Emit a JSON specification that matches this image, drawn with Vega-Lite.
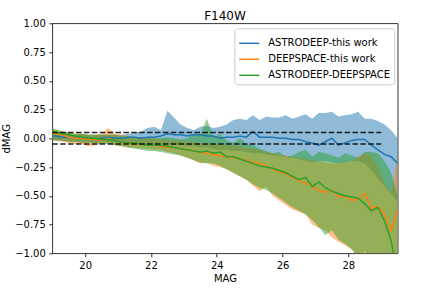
{
  "$schema": "https://vega.github.io/schema/vega-lite/v6.json",
  "autosize": {"type": "none"},
  "padding": {"left": 52.3, "top": 23.3, "right": 34, "bottom": 34},
  "width": 345.4,
  "height": 230,
  "title": {"text": "F140W", "fontSize": 12, "fontWeight": "normal", "color": "black", "offset": -5, "font": "DejaVu Sans"},
  "config": {
    "font": "DejaVu Sans",
    "view": {"stroke": "black", "strokeWidth": 0.8},
    "axis": {"domain": false, "grid": false, "tickColor": "black", "tickSize": 3.5, "tickWidth": 0.8, "labelFontSize": 10, "labelColor": "black", "labelPadding": 3.5, "labelOverlap": false, "titleFontSize": 10, "titleFontWeight": "normal", "titleColor": "black", "labelFont": "DejaVu Sans", "titleFont": "DejaVu Sans"}
  },
  "datasets": {
    "stats": [
      {"series": "ASTRODEEP-this work", "mag": 18.9, "mean": 0.02, "lo": -0.02, "hi": 0.08},
      {"series": "ASTRODEEP-this work", "mag": 19.1, "mean": 0.02, "lo": -0.02, "hi": 0.06},
      {"series": "ASTRODEEP-this work", "mag": 19.3, "mean": 0.01, "lo": -0.02, "hi": 0.04},
      {"series": "ASTRODEEP-this work", "mag": 19.5, "mean": 0.01, "lo": -0.03, "hi": 0.03},
      {"series": "ASTRODEEP-this work", "mag": 19.7, "mean": 0.0, "lo": -0.03, "hi": 0.03},
      {"series": "ASTRODEEP-this work", "mag": 19.9, "mean": 0.0, "lo": -0.03, "hi": 0.04},
      {"series": "ASTRODEEP-this work", "mag": 20.1, "mean": 0.0, "lo": -0.03, "hi": 0.03},
      {"series": "ASTRODEEP-this work", "mag": 20.3, "mean": -0.01, "lo": -0.04, "hi": 0.03},
      {"series": "ASTRODEEP-this work", "mag": 20.5, "mean": 0.0, "lo": -0.03, "hi": 0.03},
      {"series": "ASTRODEEP-this work", "mag": 20.7, "mean": 0.01, "lo": -0.03, "hi": 0.03},
      {"series": "ASTRODEEP-this work", "mag": 20.9, "mean": 0.0, "lo": -0.04, "hi": 0.03},
      {"series": "ASTRODEEP-this work", "mag": 21.1, "mean": 0.0, "lo": -0.04, "hi": 0.03},
      {"series": "ASTRODEEP-this work", "mag": 21.3, "mean": 0.01, "lo": -0.04, "hi": 0.04},
      {"series": "ASTRODEEP-this work", "mag": 21.5, "mean": 0.01, "lo": -0.04, "hi": 0.05},
      {"series": "ASTRODEEP-this work", "mag": 21.7, "mean": 0.0, "lo": -0.05, "hi": 0.06},
      {"series": "ASTRODEEP-this work", "mag": 21.9, "mean": 0.01, "lo": -0.05, "hi": 0.09},
      {"series": "ASTRODEEP-this work", "mag": 22.1, "mean": 0.01, "lo": -0.05, "hi": 0.1},
      {"series": "ASTRODEEP-this work", "mag": 22.3, "mean": 0.02, "lo": -0.05, "hi": 0.07},
      {"series": "ASTRODEEP-this work", "mag": 22.5, "mean": 0.04, "lo": -0.05, "hi": 0.24},
      {"series": "ASTRODEEP-this work", "mag": 22.7, "mean": 0.03, "lo": -0.06, "hi": 0.18},
      {"series": "ASTRODEEP-this work", "mag": 22.9, "mean": 0.03, "lo": -0.06, "hi": 0.12},
      {"series": "ASTRODEEP-this work", "mag": 23.1, "mean": 0.02, "lo": -0.07, "hi": 0.09},
      {"series": "ASTRODEEP-this work", "mag": 23.3, "mean": 0.03, "lo": -0.07, "hi": 0.07},
      {"series": "ASTRODEEP-this work", "mag": 23.5, "mean": 0.03, "lo": -0.08, "hi": 0.1},
      {"series": "ASTRODEEP-this work", "mag": 23.7, "mean": 0.02, "lo": -0.08, "hi": 0.11},
      {"series": "ASTRODEEP-this work", "mag": 23.9, "mean": 0.02, "lo": -0.09, "hi": 0.09},
      {"series": "ASTRODEEP-this work", "mag": 24.1, "mean": 0.0, "lo": -0.1, "hi": 0.1},
      {"series": "ASTRODEEP-this work", "mag": 24.3, "mean": 0.01, "lo": -0.1, "hi": 0.12},
      {"series": "ASTRODEEP-this work", "mag": 24.5, "mean": 0.01, "lo": -0.11, "hi": 0.16},
      {"series": "ASTRODEEP-this work", "mag": 24.7, "mean": 0.02, "lo": -0.11, "hi": 0.17},
      {"series": "ASTRODEEP-this work", "mag": 24.9, "mean": 0.01, "lo": -0.12, "hi": 0.16},
      {"series": "ASTRODEEP-this work", "mag": 25.1, "mean": 0.06, "lo": -0.13, "hi": 0.2},
      {"series": "ASTRODEEP-this work", "mag": 25.3, "mean": 0.01, "lo": -0.13, "hi": 0.16},
      {"series": "ASTRODEEP-this work", "mag": 25.5, "mean": 0.01, "lo": -0.14, "hi": 0.19},
      {"series": "ASTRODEEP-this work", "mag": 25.7, "mean": 0.01, "lo": -0.15, "hi": 0.18},
      {"series": "ASTRODEEP-this work", "mag": 25.9, "mean": 0.0, "lo": -0.15, "hi": 0.18},
      {"series": "ASTRODEEP-this work", "mag": 26.1, "mean": 0.0, "lo": -0.17, "hi": 0.2},
      {"series": "ASTRODEEP-this work", "mag": 26.3, "mean": -0.01, "lo": -0.17, "hi": 0.17},
      {"series": "ASTRODEEP-this work", "mag": 26.5, "mean": -0.01, "lo": -0.18, "hi": 0.19},
      {"series": "ASTRODEEP-this work", "mag": 26.7, "mean": -0.03, "lo": -0.2, "hi": 0.21},
      {"series": "ASTRODEEP-this work", "mag": 26.9, "mean": -0.04, "lo": -0.21, "hi": 0.17},
      {"series": "ASTRODEEP-this work", "mag": 27.1, "mean": -0.06, "lo": -0.2, "hi": 0.22},
      {"series": "ASTRODEEP-this work", "mag": 27.3, "mean": -0.03, "lo": -0.2, "hi": 0.22},
      {"series": "ASTRODEEP-this work", "mag": 27.5, "mean": 0.0, "lo": -0.21, "hi": 0.23},
      {"series": "ASTRODEEP-this work", "mag": 27.7, "mean": -0.06, "lo": -0.22, "hi": 0.19},
      {"series": "ASTRODEEP-this work", "mag": 27.9, "mean": -0.04, "lo": -0.21, "hi": 0.2},
      {"series": "ASTRODEEP-this work", "mag": 28.1, "mean": -0.02, "lo": -0.2, "hi": 0.21},
      {"series": "ASTRODEEP-this work", "mag": 28.3, "mean": -0.01, "lo": -0.2, "hi": 0.23},
      {"series": "ASTRODEEP-this work", "mag": 28.5, "mean": -0.01, "lo": -0.22, "hi": 0.17},
      {"series": "ASTRODEEP-this work", "mag": 28.7, "mean": -0.06, "lo": -0.28, "hi": 0.17},
      {"series": "ASTRODEEP-this work", "mag": 28.9, "mean": -0.1, "lo": -0.35, "hi": 0.15},
      {"series": "ASTRODEEP-this work", "mag": 29.1, "mean": -0.14, "lo": -0.42, "hi": 0.12},
      {"series": "ASTRODEEP-this work", "mag": 29.3, "mean": -0.16, "lo": -0.48, "hi": 0.07},
      {"series": "ASTRODEEP-this work", "mag": 29.5, "mean": -0.22, "lo": -0.55, "hi": 0.0},

      {"series": "DEEPSPACE-this work", "mag": 18.9, "mean": 0.05, "lo": -0.01, "hi": 0.08},
      {"series": "DEEPSPACE-this work", "mag": 19.1, "mean": 0.04, "lo": -0.02, "hi": 0.07},
      {"series": "DEEPSPACE-this work", "mag": 19.3, "mean": 0.03, "lo": -0.03, "hi": 0.06},
      {"series": "DEEPSPACE-this work", "mag": 19.5, "mean": 0.01, "lo": -0.04, "hi": 0.05},
      {"series": "DEEPSPACE-this work", "mag": 19.7, "mean": 0.0, "lo": -0.05, "hi": 0.04},
      {"series": "DEEPSPACE-this work", "mag": 19.9, "mean": 0.0, "lo": -0.05, "hi": 0.04},
      {"series": "DEEPSPACE-this work", "mag": 20.1, "mean": -0.01, "lo": -0.07, "hi": 0.03},
      {"series": "DEEPSPACE-this work", "mag": 20.3, "mean": -0.01, "lo": -0.06, "hi": 0.03},
      {"series": "DEEPSPACE-this work", "mag": 20.5, "mean": -0.02, "lo": -0.05, "hi": 0.04},
      {"series": "DEEPSPACE-this work", "mag": 20.7, "mean": 0.0, "lo": -0.04, "hi": 0.09},
      {"series": "DEEPSPACE-this work", "mag": 20.9, "mean": -0.02, "lo": -0.06, "hi": 0.04},
      {"series": "DEEPSPACE-this work", "mag": 21.1, "mean": -0.03, "lo": -0.07, "hi": 0.03},
      {"series": "DEEPSPACE-this work", "mag": 21.3, "mean": -0.04, "lo": -0.08, "hi": 0.02},
      {"series": "DEEPSPACE-this work", "mag": 21.5, "mean": -0.05, "lo": -0.08, "hi": 0.01},
      {"series": "DEEPSPACE-this work", "mag": 21.7, "mean": -0.05, "lo": -0.09, "hi": 0.01},
      {"series": "DEEPSPACE-this work", "mag": 21.9, "mean": -0.06, "lo": -0.09, "hi": 0.0},
      {"series": "DEEPSPACE-this work", "mag": 22.1, "mean": -0.06, "lo": -0.1, "hi": 0.0},
      {"series": "DEEPSPACE-this work", "mag": 22.3, "mean": -0.07, "lo": -0.1, "hi": -0.01},
      {"series": "DEEPSPACE-this work", "mag": 22.5, "mean": -0.08, "lo": -0.12, "hi": -0.02},
      {"series": "DEEPSPACE-this work", "mag": 22.7, "mean": -0.08, "lo": -0.13, "hi": -0.02},
      {"series": "DEEPSPACE-this work", "mag": 22.9, "mean": -0.09, "lo": -0.15, "hi": -0.02},
      {"series": "DEEPSPACE-this work", "mag": 23.1, "mean": -0.1, "lo": -0.17, "hi": -0.03},
      {"series": "DEEPSPACE-this work", "mag": 23.3, "mean": -0.11, "lo": -0.19, "hi": -0.03},
      {"series": "DEEPSPACE-this work", "mag": 23.5, "mean": -0.12, "lo": -0.22, "hi": -0.04},
      {"series": "DEEPSPACE-this work", "mag": 23.7, "mean": -0.13, "lo": -0.21, "hi": -0.04},
      {"series": "DEEPSPACE-this work", "mag": 23.9, "mean": -0.14, "lo": -0.24, "hi": -0.05},
      {"series": "DEEPSPACE-this work", "mag": 24.1, "mean": -0.15, "lo": -0.25, "hi": -0.05},
      {"series": "DEEPSPACE-this work", "mag": 24.3, "mean": -0.16, "lo": -0.27, "hi": -0.06},
      {"series": "DEEPSPACE-this work", "mag": 24.5, "mean": -0.17, "lo": -0.3, "hi": -0.06},
      {"series": "DEEPSPACE-this work", "mag": 24.7, "mean": -0.18, "lo": -0.33, "hi": -0.07},
      {"series": "DEEPSPACE-this work", "mag": 24.9, "mean": -0.19, "lo": -0.36, "hi": -0.08},
      {"series": "DEEPSPACE-this work", "mag": 25.1, "mean": -0.21, "lo": -0.41, "hi": -0.09},
      {"series": "DEEPSPACE-this work", "mag": 25.3, "mean": -0.22, "lo": -0.46, "hi": -0.1},
      {"series": "DEEPSPACE-this work", "mag": 25.5, "mean": -0.24, "lo": -0.42, "hi": -0.12},
      {"series": "DEEPSPACE-this work", "mag": 25.7, "mean": -0.27, "lo": -0.5, "hi": -0.13},
      {"series": "DEEPSPACE-this work", "mag": 25.9, "mean": -0.29, "lo": -0.54, "hi": -0.14},
      {"series": "DEEPSPACE-this work", "mag": 26.1, "mean": -0.31, "lo": -0.58, "hi": -0.15},
      {"series": "DEEPSPACE-this work", "mag": 26.3, "mean": -0.34, "lo": -0.62, "hi": -0.16},
      {"series": "DEEPSPACE-this work", "mag": 26.5, "mean": -0.37, "lo": -0.64, "hi": -0.17},
      {"series": "DEEPSPACE-this work", "mag": 26.7, "mean": -0.39, "lo": -0.66, "hi": -0.18},
      {"series": "DEEPSPACE-this work", "mag": 26.9, "mean": -0.42, "lo": -0.75, "hi": -0.19},
      {"series": "DEEPSPACE-this work", "mag": 27.1, "mean": -0.45, "lo": -0.78, "hi": -0.2},
      {"series": "DEEPSPACE-this work", "mag": 27.3, "mean": -0.47, "lo": -0.8, "hi": -0.21},
      {"series": "DEEPSPACE-this work", "mag": 27.5, "mean": -0.45, "lo": -0.86, "hi": -0.22},
      {"series": "DEEPSPACE-this work", "mag": 27.7, "mean": -0.51, "lo": -0.9, "hi": -0.22},
      {"series": "DEEPSPACE-this work", "mag": 27.9, "mean": -0.5, "lo": -0.93, "hi": -0.21},
      {"series": "DEEPSPACE-this work", "mag": 28.1, "mean": -0.54, "lo": -0.97, "hi": -0.2},
      {"series": "DEEPSPACE-this work", "mag": 28.3, "mean": -0.53, "lo": -1.02, "hi": -0.16},
      {"series": "DEEPSPACE-this work", "mag": 28.5, "mean": -0.48, "lo": -1.08, "hi": -0.13},
      {"series": "DEEPSPACE-this work", "mag": 28.7, "mean": -0.61, "lo": -1.12, "hi": -0.15},
      {"series": "DEEPSPACE-this work", "mag": 28.9, "mean": -0.59, "lo": -1.18, "hi": -0.25},
      {"series": "DEEPSPACE-this work", "mag": 29.1, "mean": -0.67, "lo": -1.22, "hi": -0.38},
      {"series": "DEEPSPACE-this work", "mag": 29.3, "mean": -0.8, "lo": -1.28, "hi": -0.48},
      {"series": "DEEPSPACE-this work", "mag": 29.5, "mean": -0.62, "lo": -1.3, "hi": -0.15},

      {"series": "ASTRODEEP-DEEPSPACE", "mag": 18.9, "mean": 0.06, "lo": 0.01, "hi": 0.09},
      {"series": "ASTRODEEP-DEEPSPACE", "mag": 19.1, "mean": 0.05, "lo": -0.02, "hi": 0.08},
      {"series": "ASTRODEEP-DEEPSPACE", "mag": 19.3, "mean": 0.04, "lo": -0.02, "hi": 0.06},
      {"series": "ASTRODEEP-DEEPSPACE", "mag": 19.5, "mean": 0.03, "lo": -0.03, "hi": 0.05},
      {"series": "ASTRODEEP-DEEPSPACE", "mag": 19.7, "mean": 0.02, "lo": -0.03, "hi": 0.04},
      {"series": "ASTRODEEP-DEEPSPACE", "mag": 19.9, "mean": 0.01, "lo": -0.04, "hi": 0.04},
      {"series": "ASTRODEEP-DEEPSPACE", "mag": 20.1, "mean": 0.0, "lo": -0.04, "hi": 0.03},
      {"series": "ASTRODEEP-DEEPSPACE", "mag": 20.3, "mean": 0.0, "lo": -0.04, "hi": 0.03},
      {"series": "ASTRODEEP-DEEPSPACE", "mag": 20.5, "mean": -0.01, "lo": -0.05, "hi": 0.03},
      {"series": "ASTRODEEP-DEEPSPACE", "mag": 20.7, "mean": -0.01, "lo": -0.05, "hi": 0.03},
      {"series": "ASTRODEEP-DEEPSPACE", "mag": 20.9, "mean": -0.02, "lo": -0.06, "hi": 0.03},
      {"series": "ASTRODEEP-DEEPSPACE", "mag": 21.1, "mean": -0.03, "lo": -0.07, "hi": 0.02},
      {"series": "ASTRODEEP-DEEPSPACE", "mag": 21.3, "mean": -0.04, "lo": -0.08, "hi": 0.02},
      {"series": "ASTRODEEP-DEEPSPACE", "mag": 21.5, "mean": -0.04, "lo": -0.09, "hi": 0.01},
      {"series": "ASTRODEEP-DEEPSPACE", "mag": 21.7, "mean": -0.05, "lo": -0.1, "hi": 0.01},
      {"series": "ASTRODEEP-DEEPSPACE", "mag": 21.9, "mean": -0.06, "lo": -0.11, "hi": 0.01},
      {"series": "ASTRODEEP-DEEPSPACE", "mag": 22.1, "mean": -0.06, "lo": -0.11, "hi": 0.0},
      {"series": "ASTRODEEP-DEEPSPACE", "mag": 22.3, "mean": -0.06, "lo": -0.12, "hi": 0.0},
      {"series": "ASTRODEEP-DEEPSPACE", "mag": 22.5, "mean": -0.07, "lo": -0.13, "hi": 0.01},
      {"series": "ASTRODEEP-DEEPSPACE", "mag": 22.7, "mean": -0.08, "lo": -0.14, "hi": 0.0},
      {"series": "ASTRODEEP-DEEPSPACE", "mag": 22.9, "mean": -0.09, "lo": -0.15, "hi": -0.01},
      {"series": "ASTRODEEP-DEEPSPACE", "mag": 23.1, "mean": -0.1, "lo": -0.17, "hi": 0.0},
      {"series": "ASTRODEEP-DEEPSPACE", "mag": 23.3, "mean": -0.11, "lo": -0.19, "hi": 0.04},
      {"series": "ASTRODEEP-DEEPSPACE", "mag": 23.5, "mean": -0.12, "lo": -0.21, "hi": 0.03},
      {"series": "ASTRODEEP-DEEPSPACE", "mag": 23.7, "mean": -0.11, "lo": -0.22, "hi": 0.17},
      {"series": "ASTRODEEP-DEEPSPACE", "mag": 23.9, "mean": -0.13, "lo": -0.22, "hi": 0.01},
      {"series": "ASTRODEEP-DEEPSPACE", "mag": 24.1, "mean": -0.12, "lo": -0.24, "hi": 0.04},
      {"series": "ASTRODEEP-DEEPSPACE", "mag": 24.3, "mean": -0.16, "lo": -0.27, "hi": -0.02},
      {"series": "ASTRODEEP-DEEPSPACE", "mag": 24.5, "mean": -0.16, "lo": -0.3, "hi": -0.04},
      {"series": "ASTRODEEP-DEEPSPACE", "mag": 24.7, "mean": -0.18, "lo": -0.33, "hi": 0.0},
      {"series": "ASTRODEEP-DEEPSPACE", "mag": 24.9, "mean": -0.2, "lo": -0.36, "hi": -0.05},
      {"series": "ASTRODEEP-DEEPSPACE", "mag": 25.1, "mean": -0.22, "lo": -0.4, "hi": -0.06},
      {"series": "ASTRODEEP-DEEPSPACE", "mag": 25.3, "mean": -0.24, "lo": -0.43, "hi": -0.09},
      {"series": "ASTRODEEP-DEEPSPACE", "mag": 25.5, "mean": -0.25, "lo": -0.45, "hi": -0.11},
      {"series": "ASTRODEEP-DEEPSPACE", "mag": 25.7, "mean": -0.26, "lo": -0.48, "hi": -0.13},
      {"series": "ASTRODEEP-DEEPSPACE", "mag": 25.9, "mean": -0.28, "lo": -0.52, "hi": -0.12},
      {"series": "ASTRODEEP-DEEPSPACE", "mag": 26.1, "mean": -0.3, "lo": -0.56, "hi": -0.16},
      {"series": "ASTRODEEP-DEEPSPACE", "mag": 26.3, "mean": -0.33, "lo": -0.6, "hi": -0.15},
      {"series": "ASTRODEEP-DEEPSPACE", "mag": 26.5, "mean": -0.36, "lo": -0.63, "hi": -0.12},
      {"series": "ASTRODEEP-DEEPSPACE", "mag": 26.7, "mean": -0.34, "lo": -0.66, "hi": -0.1},
      {"series": "ASTRODEEP-DEEPSPACE", "mag": 26.9, "mean": -0.42, "lo": -0.71, "hi": -0.16},
      {"series": "ASTRODEEP-DEEPSPACE", "mag": 27.1, "mean": -0.38, "lo": -0.77, "hi": -0.12},
      {"series": "ASTRODEEP-DEEPSPACE", "mag": 27.3, "mean": -0.43, "lo": -0.84, "hi": -0.13},
      {"series": "ASTRODEEP-DEEPSPACE", "mag": 27.5, "mean": -0.46, "lo": -0.8, "hi": -0.15},
      {"series": "ASTRODEEP-DEEPSPACE", "mag": 27.7, "mean": -0.48, "lo": -0.88, "hi": -0.17},
      {"series": "ASTRODEEP-DEEPSPACE", "mag": 27.9, "mean": -0.5, "lo": -0.92, "hi": -0.13},
      {"series": "ASTRODEEP-DEEPSPACE", "mag": 28.1, "mean": -0.51, "lo": -0.96, "hi": -0.15},
      {"series": "ASTRODEEP-DEEPSPACE", "mag": 28.3, "mean": -0.52, "lo": -1.05, "hi": -0.17},
      {"series": "ASTRODEEP-DEEPSPACE", "mag": 28.5, "mean": -0.57, "lo": -0.98, "hi": -0.12},
      {"series": "ASTRODEEP-DEEPSPACE", "mag": 28.7, "mean": -0.63, "lo": -1.1, "hi": -0.12},
      {"series": "ASTRODEEP-DEEPSPACE", "mag": 28.9, "mean": -0.6, "lo": -1.15, "hi": -0.13},
      {"series": "ASTRODEEP-DEEPSPACE", "mag": 29.1, "mean": -0.72, "lo": -1.25, "hi": -0.2},
      {"series": "ASTRODEEP-DEEPSPACE", "mag": 29.3, "mean": -0.89, "lo": -1.3, "hi": -0.3},
      {"series": "ASTRODEEP-DEEPSPACE", "mag": 29.5, "mean": -1.2, "lo": -1.4, "hi": -0.5}
    ],
    "refs": [
      {"start": 19.0, "end": 29.0, "level": 0.05},
      {"start": 19.0, "end": 29.0, "level": -0.05}
    ]
  },
  "layer": [
    {
      "data": {"name": "stats"},
      "transform": [{"filter": "datum.series === 'ASTRODEEP-this work'"}],
      "mark": {"type": "area", "opacity": 0.5, "clip": true},
      "encoding": {
        "x": {"field": "mag", "type": "quantitative", "scale": {"domain": [19, 29.5], "nice": false, "zero": false}, "axis": {"values": [20, 22, 24, 26, 28], "title": "MAG", "titlePadding": 3}},
        "y": {"field": "lo", "type": "quantitative", "scale": {"domain": [-1, 1], "nice": false}, "axis": {"values": [-1, -0.75, -0.5, -0.25, 0, 0.25, 0.5, 0.75, 1], "format": ".2f", "title": "dMAG", "titlePadding": 3}},
        "y2": {"field": "hi"},
        "color": {"field": "series", "type": "nominal", "scale": {"domain": ["ASTRODEEP-this work", "DEEPSPACE-this work", "ASTRODEEP-DEEPSPACE"], "range": ["#1f77b4", "#ff7f0e", "#2ca02c"]}, "legend": {"title": null, "orient": "none", "legendX": 182, "legendY": 5, "padding": 4, "strokeColor": "#cccccc", "fillColor": "rgba(255,255,255,0.8)", "cornerRadius": 3, "labelFontSize": 10, "labelColor": "black", "labelFont": "DejaVu Sans", "symbolType": "stroke", "symbolSize": 400, "symbolStrokeWidth": 1.5, "symbolOpacity": 1, "labelOffset": 8, "rowPadding": -4.7}}
      }
    },
    {
      "data": {"name": "stats"},
      "transform": [{"filter": "datum.series === 'DEEPSPACE-this work'"}],
      "mark": {"type": "area", "opacity": 0.5, "clip": true},
      "encoding": {
        "x": {"field": "mag", "type": "quantitative", "scale": {"domain": [19, 29.5], "nice": false, "zero": false}, "axis": {"values": [20, 22, 24, 26, 28], "title": "MAG", "titlePadding": 3}},
        "y": {"field": "lo", "type": "quantitative", "scale": {"domain": [-1, 1], "nice": false}, "axis": {"values": [-1, -0.75, -0.5, -0.25, 0, 0.25, 0.5, 0.75, 1], "format": ".2f", "title": "dMAG", "titlePadding": 3}},
        "y2": {"field": "hi"},
        "color": {"field": "series", "type": "nominal", "scale": {"domain": ["ASTRODEEP-this work", "DEEPSPACE-this work", "ASTRODEEP-DEEPSPACE"], "range": ["#1f77b4", "#ff7f0e", "#2ca02c"]}, "legend": {"title": null, "orient": "none", "legendX": 182, "legendY": 5, "padding": 4, "strokeColor": "#cccccc", "fillColor": "rgba(255,255,255,0.8)", "cornerRadius": 3, "labelFontSize": 10, "labelColor": "black", "labelFont": "DejaVu Sans", "symbolType": "stroke", "symbolSize": 400, "symbolStrokeWidth": 1.5, "symbolOpacity": 1, "labelOffset": 8, "rowPadding": -4.7}}
      }
    },
    {
      "data": {"name": "stats"},
      "transform": [{"filter": "datum.series === 'ASTRODEEP-DEEPSPACE'"}],
      "mark": {"type": "area", "opacity": 0.5, "clip": true},
      "encoding": {
        "x": {"field": "mag", "type": "quantitative", "scale": {"domain": [19, 29.5], "nice": false, "zero": false}, "axis": {"values": [20, 22, 24, 26, 28], "title": "MAG", "titlePadding": 3}},
        "y": {"field": "lo", "type": "quantitative", "scale": {"domain": [-1, 1], "nice": false}, "axis": {"values": [-1, -0.75, -0.5, -0.25, 0, 0.25, 0.5, 0.75, 1], "format": ".2f", "title": "dMAG", "titlePadding": 3}},
        "y2": {"field": "hi"},
        "color": {"field": "series", "type": "nominal", "scale": {"domain": ["ASTRODEEP-this work", "DEEPSPACE-this work", "ASTRODEEP-DEEPSPACE"], "range": ["#1f77b4", "#ff7f0e", "#2ca02c"]}, "legend": {"title": null, "orient": "none", "legendX": 182, "legendY": 5, "padding": 4, "strokeColor": "#cccccc", "fillColor": "rgba(255,255,255,0.8)", "cornerRadius": 3, "labelFontSize": 10, "labelColor": "black", "labelFont": "DejaVu Sans", "symbolType": "stroke", "symbolSize": 400, "symbolStrokeWidth": 1.5, "symbolOpacity": 1, "labelOffset": 8, "rowPadding": -4.7}}
      }
    },
    {
      "data": {"name": "stats"},
      "mark": {"type": "line", "strokeWidth": 1.5, "clip": true},
      "encoding": {
        "x": {"field": "mag", "type": "quantitative", "scale": {"domain": [19, 29.5], "nice": false, "zero": false}, "axis": {"values": [20, 22, 24, 26, 28], "title": "MAG", "titlePadding": 3}},
        "y": {"field": "mean", "type": "quantitative", "scale": {"domain": [-1, 1], "nice": false}, "axis": {"values": [-1, -0.75, -0.5, -0.25, 0, 0.25, 0.5, 0.75, 1], "format": ".2f", "title": "dMAG", "titlePadding": 3}},
        "color": {"field": "series", "type": "nominal", "scale": {"domain": ["ASTRODEEP-this work", "DEEPSPACE-this work", "ASTRODEEP-DEEPSPACE"], "range": ["#1f77b4", "#ff7f0e", "#2ca02c"]}, "legend": {"title": null, "orient": "none", "legendX": 182, "legendY": 5, "padding": 4, "strokeColor": "#cccccc", "fillColor": "rgba(255,255,255,0.8)", "cornerRadius": 3, "labelFontSize": 10, "labelColor": "black", "labelFont": "DejaVu Sans", "symbolType": "stroke", "symbolSize": 400, "symbolStrokeWidth": 1.5, "symbolOpacity": 1, "labelOffset": 8, "rowPadding": -4.7}}
      }
    },
    {
      "data": {"name": "refs"},
      "mark": {"type": "rule", "color": "black", "strokeWidth": 1.5, "strokeDash": [5.5, 2.4], "opacity": 0.85},
      "encoding": {
        "x": {"field": "start", "type": "quantitative", "scale": {"domain": [19, 29.5], "nice": false, "zero": false}, "axis": {"values": [20, 22, 24, 26, 28], "title": "MAG", "titlePadding": 3}},
        "x2": {"field": "end"},
        "y": {"field": "level", "type": "quantitative", "scale": {"domain": [-1, 1], "nice": false}, "axis": {"values": [-1, -0.75, -0.5, -0.25, 0, 0.25, 0.5, 0.75, 1], "format": ".2f", "title": "dMAG", "titlePadding": 3}}
      }
    }
  ]
}
